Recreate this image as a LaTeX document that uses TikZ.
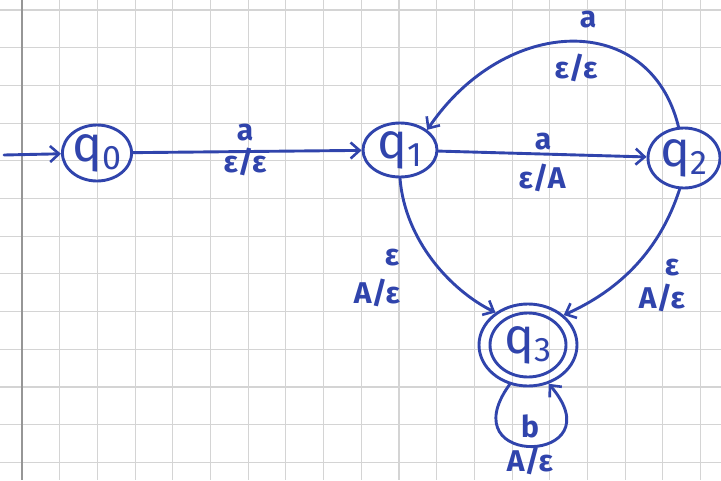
\documentclass[tikz,border=0pt]{standalone}
\usepackage{fontspec}
\setmainfont{Fira Sans}
\usetikzlibrary{arrows.meta,shapes.geometric}
\definecolor{ink}{RGB}{48,68,172}
\definecolor{gridline}{RGB}{212,212,212}
\definecolor{marginline}{RGB}{150,150,150}
\tikzset{
  pen/.style={draw=ink, line width=2.9pt, line cap=round, line join=round},
  arr/.style={pen, -{Straight Barb[length=9pt,width=16pt,line width=2.6pt]}},
  stnode/.style={ellipse, pen, inner sep=0pt, text=ink},
  lbl/.style={text=ink, font=\fontsize{30}{30}\selectfont\bfseries, inner sep=0pt},
}
\newcommand{\stname}[1]{\fontsize{50}{50}\selectfont q\raisebox{-8pt}{\fontsize{34}{34}\selectfont #1}}
\begin{document}
\begin{tikzpicture}[x=1pt,y=-1pt]
  % paper and squared grid
  \fill[white] (0,0) rectangle (721,480);
  \useasboundingbox (0,0) rectangle (721,480);
  \foreach \i in {0,...,18} {
    \draw[gridline, line width=1.1pt] ({22+37.7*\i},0) -- ({22+37.7*\i},480);
  }
  \foreach \j in {0,...,12} {
    \draw[gridline, line width=1.1pt] (0,{10+37.7*\j}) -- (721,{10+37.7*\j});
  }
  \draw[marginline, line width=2pt] (22,0) -- (22,480);

  % states
  \node[stnode, minimum width=66pt, minimum height=56pt] (q0) at (97,153) {\stname{0}};
  \node[stnode, minimum width=74pt, minimum height=54pt] (q1) at (400,150) {\stname{1}};
  \node[stnode, minimum width=72pt, minimum height=60pt] (q2) at (684,158) {\stname{2}};
  \node[stnode, minimum width=98pt, minimum height=82pt] (q3) at (528,345) {\stname{3}};
  \draw[pen] (q3.center) ellipse [x radius=38pt, y radius=32pt];

  % initial arrow
  \coordinate (init) at (4,155);
  \draw[arr] (init) -- (q0);

  % transitions
  \draw[arr] (q0) -- (q1);
  \node[lbl] (l01a) at (245,133) {a};
  \node[lbl] (l01b) at (245,162) {ε/ε};

  \draw[arr] (q1) -- (q2);
  \node[lbl] (l12a) at (543,142) {a};
  \node[lbl] (l12b) at (542,178) {ε/A};

  \draw[arr] (q2.100) .. controls (650,10) and (505,15) .. (q1.north east);
  \node[lbl] (l21a) at (588,20) {a};
  \node[lbl] (l21b) at (576,68) {ε/ε};

  \draw[arr] (q1.south) .. controls (405,240) and (450,290) .. (q3.135);
  \node[lbl] (l13a) at (392,258) {ε};
  \node[lbl] (l13b) at (377,293) {A/ε};

  \draw[arr] (q2.262) .. controls (660,250) and (620,290) .. (q3.40);
  \node[lbl] (l23a) at (672,268) {ε};
  \node[lbl] (l23b) at (662,298) {A/ε};

  \draw[arr] (q3.245) .. controls (448,470) and (618,464) .. (q3.298);
  \node[lbl] (l33a) at (530,426) {b};
  \node[lbl] (l33b) at (530,461) {A/ε};
\end{tikzpicture}
\end{document}
